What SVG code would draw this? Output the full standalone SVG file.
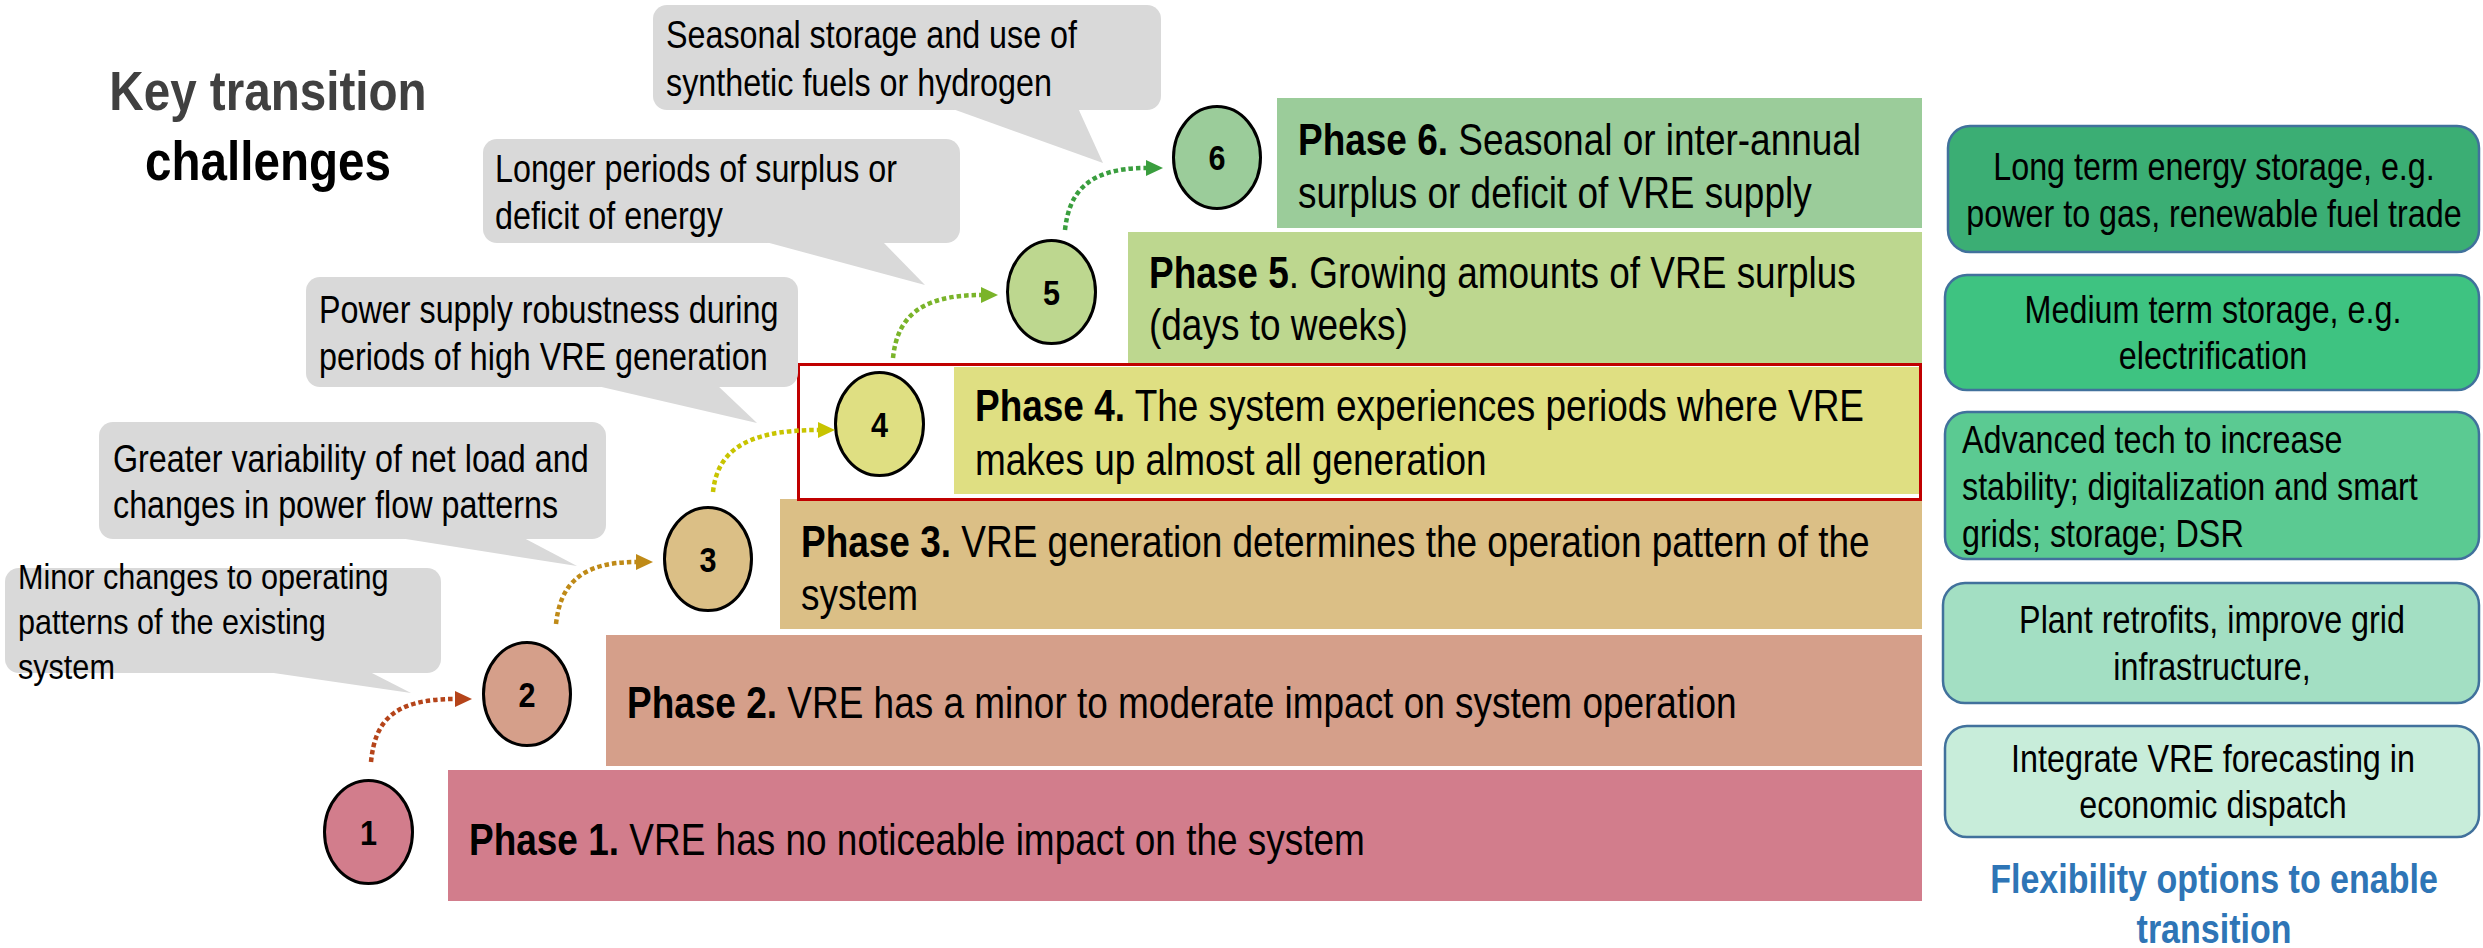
<svg xmlns="http://www.w3.org/2000/svg" width="2483" height="948" viewBox="0 0 2483 948">
<style>
text{font-family:"Liberation Sans",Arial,sans-serif;fill:#000}
.bub{fill:#D9D9D9}
.bt{font-size:38px}
.pt{font-size:43.5px}
.b{font-weight:bold}
.num{font-size:36px;font-weight:bold;text-anchor:middle}
.circ{stroke:#000;stroke-width:3}
.opt{stroke:#41719C;stroke-width:2.5}
.ot{font-size:38px}
.mid{text-anchor:middle}
.con{fill:none;stroke-width:4.5;stroke-dasharray:4.5 3}
</style>
<defs>
<marker id="m1" markerWidth="18" markerHeight="16" refX="0" refY="8" orient="auto" markerUnits="userSpaceOnUse"><path d="M0,0 L17,8 L0,16 Z" fill="#B5441A"/></marker>
<marker id="m2" markerWidth="18" markerHeight="16" refX="0" refY="8" orient="auto" markerUnits="userSpaceOnUse"><path d="M0,0 L17,8 L0,16 Z" fill="#BF8A17"/></marker>
<marker id="m3" markerWidth="18" markerHeight="16" refX="0" refY="8" orient="auto" markerUnits="userSpaceOnUse"><path d="M0,0 L17,8 L0,16 Z" fill="#C8C400"/></marker>
<marker id="m4" markerWidth="18" markerHeight="16" refX="0" refY="8" orient="auto" markerUnits="userSpaceOnUse"><path d="M0,0 L17,8 L0,16 Z" fill="#7AB42A"/></marker>
<marker id="m5" markerWidth="18" markerHeight="16" refX="0" refY="8" orient="auto" markerUnits="userSpaceOnUse"><path d="M0,0 L17,8 L0,16 Z" fill="#3A9E3E"/></marker>
</defs>

<g id="title">
<text class="b mid" font-size="56" style="fill:#404040" transform="translate(268,110) scale(0.85,1)">Key transition</text>
<text class="b mid" font-size="56" transform="translate(268,180) scale(0.85,1)">challenges</text>
</g>

<!-- Phase bars -->
<g id="phase1">
<rect x="448" y="770" width="1474" height="131" fill="#D27D8C"/>
<text class="pt" transform="translate(469,855) scale(0.85,1)"><tspan class="b">Phase 1.</tspan> VRE has no noticeable impact on the system</text>
</g>
<g id="phase2">
<rect x="606" y="635" width="1316" height="131" fill="#D59F8A"/>
<text class="pt" transform="translate(627,718) scale(0.85,1)"><tspan class="b">Phase 2.</tspan> VRE has a minor to moderate impact on system operation</text>
</g>
<g id="phase3">
<rect x="780" y="499" width="1142" height="130" fill="#DBBF86"/>
<text class="pt" transform="translate(801,557) scale(0.85,1)"><tspan class="b">Phase 3.</tspan> VRE generation determines the operation pattern of the<tspan x="0" dy="53">system</tspan></text>
</g>
<g id="phase4">
<rect x="798.5" y="364.5" width="1122" height="135" fill="#FFFFFF" stroke="#C00000" stroke-width="3"/>
<rect x="954" y="367" width="965" height="127" fill="#DFDF82"/>
<text class="pt" transform="translate(975,421) scale(0.85,1)"><tspan class="b">Phase 4.</tspan> The system experiences periods where VRE<tspan x="0" dy="54">makes up almost all generation</tspan></text>
</g>
<g id="phase5">
<rect x="1128" y="232" width="794" height="131" fill="#BDD78F"/>
<text class="pt" transform="translate(1149,288) scale(0.85,1)"><tspan class="b">Phase 5</tspan>. Growing amounts of VRE surplus<tspan x="0" dy="52">(days to weeks)</tspan></text>
</g>
<g id="phase6">
<rect x="1277" y="98" width="645" height="130" fill="#9BCC9A"/>
<text class="pt" transform="translate(1298,155) scale(0.85,1)"><tspan class="b">Phase 6.</tspan> Seasonal or inter-annual<tspan x="0" dy="53">surplus or deficit of VRE supply</tspan></text>
</g>

<!-- Challenge bubbles -->
<g id="challenge6">
<rect class="bub" x="653" y="5" width="508" height="105" rx="14"/>
<polygon class="bub" points="950,108 1078,108 1103,163"/>
<text class="bt" transform="translate(666,48) scale(0.85,1)">Seasonal storage and use of<tspan x="0" dy="48">synthetic fuels or hydrogen</tspan></text>
</g>
<g id="challenge5">
<rect class="bub" x="483" y="139" width="477" height="104" rx="14"/>
<polygon class="bub" points="762,241 882,241 925,285"/>
<text class="bt" transform="translate(495,182) scale(0.85,1)">Longer periods of surplus or<tspan x="0" dy="47">deficit of energy</tspan></text>
</g>
<g id="challenge4">
<rect class="bub" x="306" y="277" width="492" height="110" rx="14"/>
<polygon class="bub" points="593,385 717,385 757,423"/>
<text class="bt" transform="translate(319,323) scale(0.85,1)">Power supply robustness during<tspan x="0" dy="47">periods of high VRE generation</tspan></text>
</g>
<g id="challenge3">
<rect class="bub" x="99" y="422" width="507" height="117" rx="14"/>
<polygon class="bub" points="393,537 522,537 577,566"/>
<text class="bt" transform="translate(113,472) scale(0.85,1)">Greater variability of net load and<tspan x="0" dy="46">changes in power flow patterns</tspan></text>
</g>
<g id="challenge2">
<rect class="bub" x="5" y="568" width="436" height="105" rx="14"/>
<polygon class="bub" points="260,671 368,671 411,693"/>
<text font-size="36" transform="translate(18,589) scale(0.85,1)">Minor changes to operating<tspan x="0" dy="45">patterns of the existing</tspan><tspan x="0" dy="45">system</tspan></text>
</g>

<!-- Circles -->
<g id="circle1">
<ellipse class="circ" cx="368.5" cy="832" rx="44" ry="51.5" fill="#D27D8C"/>
<text class="num" transform="translate(368.5,845) scale(0.85,1)">1</text>
</g>
<g id="circle2">
<ellipse class="circ" cx="527" cy="694" rx="43.5" ry="51.5" fill="#D59F8A"/>
<text class="num" transform="translate(527,707) scale(0.85,1)">2</text>
</g>
<g id="circle3">
<ellipse class="circ" cx="708" cy="559" rx="43.5" ry="51.5" fill="#DBBF86"/>
<text class="num" transform="translate(708,572) scale(0.85,1)">3</text>
</g>
<g id="circle4">
<ellipse class="circ" cx="879.5" cy="424" rx="44" ry="51.5" fill="#DFDF82"/>
<text class="num" transform="translate(879.5,437) scale(0.85,1)">4</text>
</g>
<g id="circle5">
<ellipse class="circ" cx="1051.5" cy="292" rx="44" ry="51.5" fill="#BDD78F"/>
<text class="num" transform="translate(1051.5,305) scale(0.85,1)">5</text>
</g>
<g id="circle6">
<ellipse class="circ" cx="1217" cy="157.5" rx="43.5" ry="51" fill="#9BCC9A"/>
<text class="num" transform="translate(1217,170) scale(0.85,1)">6</text>
</g>

<!-- Connectors -->
<g id="connectors">
<path class="con" stroke="#B5441A" marker-end="url(#m1)" d="M371,762 C375,722 392,699 455,699"/>
<path class="con" stroke="#BF8A17" marker-end="url(#m2)" d="M556,624 C560,588 577,562 636,562"/>
<path class="con" stroke="#C8C400" marker-end="url(#m3)" d="M713,492 C717,455 740,430 818,430"/>
<path class="con" stroke="#7AB42A" marker-end="url(#m4)" d="M893,358 C897,320 917,295 981,295"/>
<path class="con" stroke="#3A9E3E" marker-end="url(#m5)" d="M1065,230 C1069,194 1086,168 1146,168"/>
</g>

<!-- Flexibility options -->
<g id="option1">
<rect class="opt" x="1948" y="126" width="531" height="126" rx="22" fill="#3BAE74"/>
<text class="ot mid" transform="translate(2214,180) scale(0.85,1)">Long term energy storage, e.g.<tspan x="0" dy="47">power to gas, renewable fuel trade</tspan></text>
</g>
<g id="option2">
<rect class="opt" x="1945" y="275" width="534" height="115" rx="22" fill="#3EC381"/>
<text class="ot mid" transform="translate(2213,323) scale(0.85,1)">Medium term storage, e.g.<tspan x="0" dy="46">electrification</tspan></text>
</g>
<g id="option3">
<rect class="opt" x="1945" y="412" width="534" height="147" rx="22" fill="#5BCA92"/>
<text class="ot" transform="translate(1962,453) scale(0.85,1)">Advanced tech to increase<tspan x="0" dy="47">stability; digitalization and smart</tspan><tspan x="0" dy="47">grids; storage; DSR</tspan></text>
</g>
<g id="option4">
<rect class="opt" x="1943" y="583" width="536" height="120" rx="22" fill="#A3DFC3"/>
<text class="ot mid" transform="translate(2212,633) scale(0.85,1)">Plant retrofits, improve grid<tspan x="0" dy="47">infrastructure,</tspan></text>
</g>
<g id="option5">
<rect class="opt" x="1945" y="726" width="534" height="111" rx="22" fill="#C8EDDA"/>
<text class="ot mid" transform="translate(2213,772) scale(0.85,1)">Integrate VRE forecasting in<tspan x="0" dy="46">economic dispatch</tspan></text>
</g>
<g id="footer">
<text class="b mid" font-size="40" style="fill:#2E75B6" transform="translate(2214,893) scale(0.85,1)">Flexibility options to enable<tspan x="0" dy="50">transition</tspan></text>
</g>
</svg>
